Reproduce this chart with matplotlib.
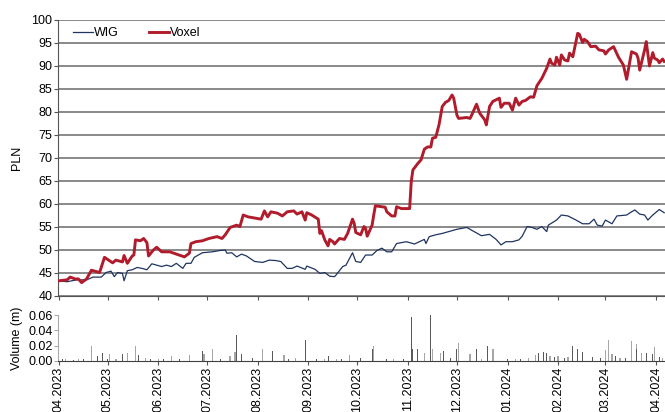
import numpy as np
import pandas as pd
import matplotlib
matplotlib.use('Agg')
import matplotlib.pyplot as plt
import matplotlib.dates as mdates

plt.rcParams['font.family'] = ['Liberation Sans', 'DejaVu Sans']

start = pd.Timestamp('2023-04-01')

# Voxel share price (days since 1 Apr 2023, PLN)
vox_days = [0, 5, 7, 10, 12, 14, 17, 20, 25, 28, 33, 35, 39, 40, 42, 45, 46, 47, 50, 52,
            54, 55, 58, 60, 63, 68, 72, 77, 80, 81, 84, 88, 92, 97, 100, 102, 105, 109, 111, 113,
            116, 121, 124, 126, 128, 130, 134, 137, 140, 144, 146, 149, 151, 152, 155, 159, 160, 161, 163, 165,
            166, 168, 169, 172, 175, 177, 180, 181, 182, 185, 187, 188, 189, 192, 193, 194, 198, 200, 201, 204,
            206, 207, 210, 215, 216, 217, 220, 222, 224, 226, 228, 229, 231, 233, 235, 237, 239, 241, 242, 244,
            245, 250, 252, 253, 256, 258, 261, 262, 264, 266, 270, 271, 273, 276, 278, 280, 282, 284, 286, 289,
            291, 293, 296, 299, 301, 302, 304, 305, 307, 308, 310, 312, 313, 315, 318, 319, 321, 322, 324, 326,
            329, 331, 334, 335, 337, 340, 343, 346, 348, 351, 354, 355, 356, 359, 360, 362, 364, 365, 367, 368,
            370, 371]
vox_vals = [43.3, 43.5, 44.1, 43.7, 43.7, 42.9, 43.7, 45.6, 45.1, 48.4, 47.2, 47.8, 47.4, 48.8, 47.1, 48.7, 48.9, 52.2, 52.0, 52.5,
            51.6, 48.7, 50.0, 50.6, 49.6, 49.6, 49.1, 48.5, 49.3, 51.4, 51.8, 52.0, 52.5, 52.9, 52.5, 53.3, 54.9, 55.4, 55.1, 57.6,
            57.2, 56.9, 56.7, 58.5, 57.2, 58.3, 58.0, 57.4, 58.3, 58.5, 57.8, 58.3, 56.5, 58.1, 57.6, 56.7, 53.6, 54.2, 52.2, 50.9,
            52.3, 51.8, 51.3, 52.5, 52.3, 53.6, 56.7, 55.8, 53.8, 53.3, 55.1, 54.7, 53.0, 55.4, 57.6, 59.6, 59.4, 59.3, 58.3, 57.4,
            57.4, 59.4, 59.0, 59.0, 64.9, 67.4, 68.8, 69.6, 71.9, 72.4, 72.4, 74.3, 74.5, 77.2, 81.2, 82.1, 82.5, 83.7, 83.0, 79.3,
            78.6, 78.8, 78.6, 79.3, 81.7, 79.7, 78.3, 77.2, 81.2, 82.3, 83.0, 81.0, 81.9, 81.9, 80.4, 83.0, 81.5, 82.3, 82.5, 83.3,
            83.2, 85.7, 87.3, 89.5, 91.5, 90.6, 90.2, 91.9, 90.2, 92.4, 91.3, 91.1, 92.8, 92.0, 97.1, 96.9, 95.1, 95.8, 95.3, 94.2,
            94.3, 93.5, 93.3, 92.6, 93.5, 94.2, 91.9, 90.2, 87.1, 93.1, 92.6, 91.7, 89.1, 93.5, 95.3, 90.0, 92.9, 91.7, 91.3, 90.7,
            91.5, 91.0]

# WIG index rebased to PLN
wig_days = [0, 5, 11, 17, 21, 26, 29, 32, 34, 36, 39, 40, 42, 45, 48, 51, 54, 57, 60, 63,
            66, 69, 72, 76, 78, 81, 83, 88, 94, 99, 102, 103, 106, 109, 112, 115, 120, 125, 129, 133,
            136, 140, 143, 146, 151, 152, 157, 160, 163, 166, 169, 170, 174, 176, 180, 182, 185, 188, 192, 195,
            198, 201, 204, 207, 213, 218, 221, 224, 225, 227, 231, 235, 239, 244, 250, 253, 259, 264, 268, 271,
            274, 278, 282, 284, 287, 290, 293, 296, 299, 300, 305, 308, 312, 317, 321, 325, 328, 330, 333, 335,
            339, 342, 348, 351, 353, 356, 359, 361, 364, 368, 371]
wig_vals = [43.3, 43.1, 43.5, 43.5, 44.1, 44.1, 45.1, 45.4, 44.2, 45.1, 44.9, 43.3, 45.5, 45.7, 46.2, 46.0, 45.7, 47.0, 46.7, 46.4,
            46.7, 46.4, 47.1, 46.0, 47.1, 47.1, 48.4, 49.4, 49.6, 49.9, 50.0, 49.3, 49.4, 48.5, 49.1, 48.7, 47.5, 47.3, 47.8, 47.7,
            47.5, 46.0, 46.0, 46.5, 45.8, 46.5, 45.8, 44.9, 45.1, 44.3, 44.2, 44.6, 46.4, 46.7, 49.4, 47.5, 47.3, 48.9, 48.9, 49.9,
            50.4, 49.6, 49.6, 51.4, 51.8, 51.3, 51.8, 52.3, 51.4, 52.9, 53.3, 53.6, 54.0, 54.5, 54.9, 54.3, 53.1, 53.4, 52.3, 51.1,
            51.8, 51.8, 52.2, 53.0, 55.1, 54.9, 54.5, 55.1, 54.0, 55.4, 56.5, 57.6, 57.4, 56.5, 55.7, 55.7, 56.7, 55.4, 55.2, 56.5,
            55.7, 57.4, 57.6, 58.3, 58.7, 57.8, 57.6, 56.5, 57.6, 58.8, 58.1]

# daily volume (m shares), two shades as in the source
vol_dark_days = [2, 9, 15, 24, 27, 30, 39, 49, 56, 64, 74, 88, 99, 109, 112, 119, 131, 141, 151, 158,
                 165, 173, 185, 192, 201, 211, 216, 217, 220, 228, 236, 240, 244, 256, 263, 275, 283, 294, 297, 299,
                 304, 310, 315, 318, 321, 327, 332, 341, 347, 354, 360, 364, 368]
vol_dark = [0.002, 0.001, 0.002, 0.0067, 0.010, 0.003, 0.009, 0.008, 0.002, 0.003, 0.002, 0.013, 0.003, 0.034, 0.009, 0.004, 0.013, 0.003, 0.027, 0.002,
            0.007, 0.003, 0.004, 0.015, 0.003, 0.002, 0.058, 0.015, 0.015, 0.061, 0.013, 0.004, 0.016, 0.015, 0.020, 0.002, 0.003, 0.011, 0.012, 0.010,
            0.005, 0.004, 0.020, 0.016, 0.012, 0.005, 0.004, 0.006, 0.004, 0.015, 0.011, 0.009, 0.005]
vol_light_days = [4, 12, 20, 31, 35, 42, 47, 53, 61, 69, 80, 89, 94, 105, 108, 125, 138, 145, 163, 170,
                  178, 193, 205, 224, 229, 234, 245, 252, 259, 266, 280, 288, 292, 301, 306, 312, 335, 337, 339, 344,
                  351, 354, 357, 365, 370]
vol_light = [0.003, 0.002, 0.020, 0.009, 0.003, 0.011, 0.020, 0.004, 0.003, 0.0067, 0.008, 0.009, 0.015, 0.0067, 0.012, 0.015, 0.008, 0.004, 0.003, 0.003,
             0.008, 0.020, 0.003, 0.011, 0.016, 0.011, 0.024, 0.009, 0.003, 0.016, 0.002, 0.004, 0.008, 0.006, 0.007, 0.005, 0.014, 0.028, 0.009, 0.004,
             0.026, 0.022, 0.011, 0.018, 0.004]


def to_dates(days):
    return start + pd.to_timedelta(np.array(days), unit='D')


fig = plt.figure(figsize=(6.65, 4.12), dpi=100)
ax = fig.add_axes([0.0872, 0.2816, 0.9128, 0.6699])
axv = fig.add_axes([0.0872, 0.1238, 0.9128, 0.1116], sharex=ax)

ax.plot(to_dates(wig_days), wig_vals, color='#1f3461', lw=0.9, label='WIG', zorder=3)
ax.plot(to_dates(vox_days), vox_vals, color='#b01c2c', lw=2.1, label='Voxel', zorder=4)

ax.set_ylim(40, 100)
ax.set_yticks(np.arange(40, 101, 5))
ax.yaxis.grid(True, color='#808080', lw=1.3)
ax.set_axisbelow(True)
ax.set_ylabel('PLN', fontsize=9)
for s in ['top', 'right']:
    ax.spines[s].set_visible(False)
ax.spines['left'].set_color('#555555')
ax.spines['bottom'].set_color('#555555')
ax.tick_params(axis='both', labelsize=9, length=3, color='#555555', pad=1)
ax.tick_params(axis='x', labelbottom=False)
leg = ax.legend(loc='upper left', ncol=2, frameon=False, fontsize=9,
                handlelength=1.6, handletextpad=0.1, columnspacing=2.4,
                bbox_to_anchor=(0.006, 1.015))

axv.bar(to_dates(vol_light_days), vol_light, width=0.8, color='#a6a6a6')
axv.bar(to_dates(vol_dark_days), vol_dark, width=0.6, color='#595959')
axv.set_ylim(0, 0.06)
axv.set_yticks([0, 0.02, 0.04, 0.06])
axv.yaxis.set_major_formatter(plt.FormatStrFormatter('%.2f'))
axv.set_ylabel('Volume (m)', fontsize=9)
for s in ['top', 'right']:
    axv.spines[s].set_visible(False)
axv.spines['left'].set_color('#aaaaaa')
axv.spines['bottom'].set_color('#404040')
axv.tick_params(axis='both', labelsize=9, length=3, color='#555555', pad=1)
axv.tick_params(axis='y', color='#aaaaaa')

axv.xaxis.set_major_locator(mdates.MonthLocator())
axv.xaxis.set_major_formatter(mdates.DateFormatter('%m.%Y'))
plt.setp(axv.get_xticklabels(), rotation=90)
axv.set_xlim(start - pd.Timedelta(days=0.5), start + pd.Timedelta(days=371.5))

ax.yaxis.set_label_coords(-0.058, 0.5)
axv.yaxis.set_label_coords(-0.058, 0.5)

fig.savefig('out.png', dpi=100)
